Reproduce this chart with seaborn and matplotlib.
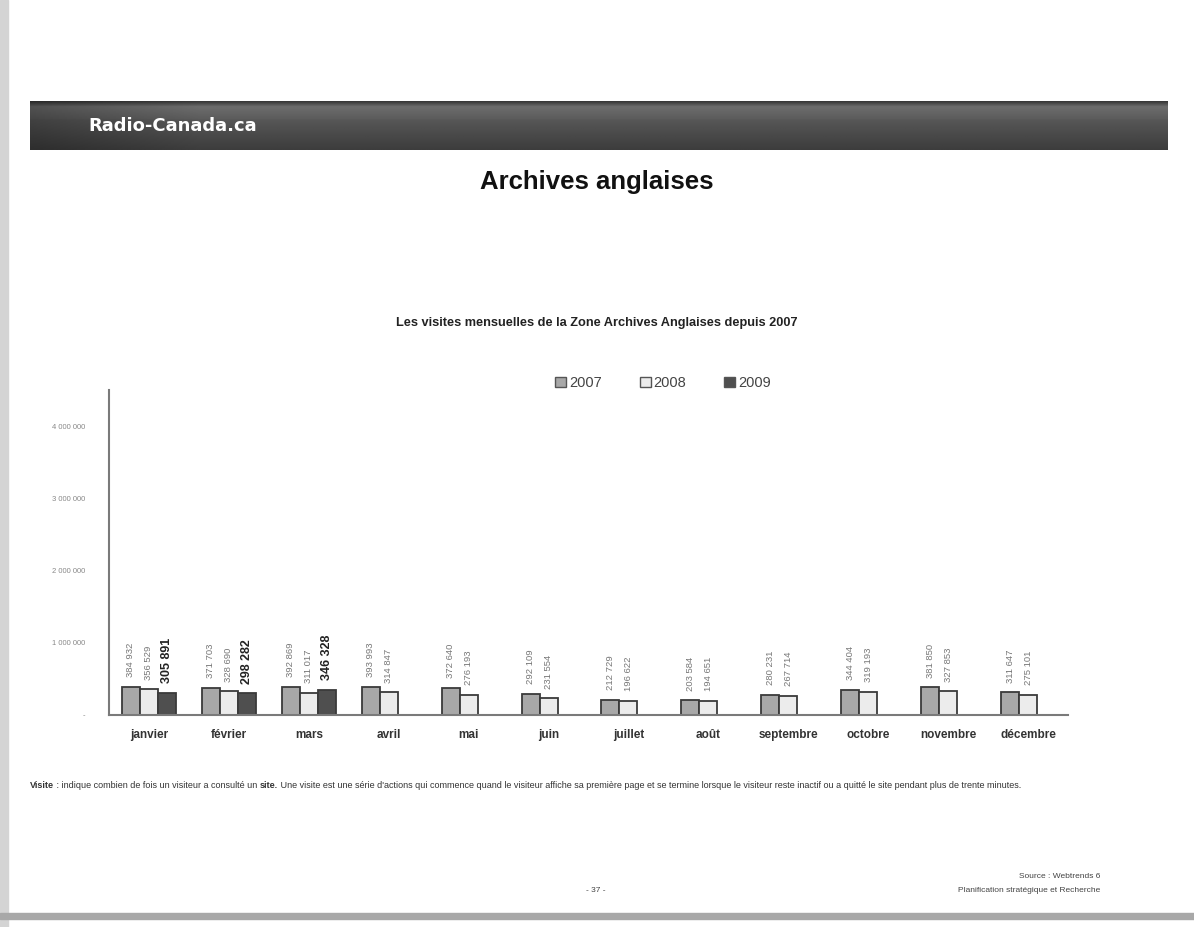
import numpy as np
import pandas as pd
import matplotlib
matplotlib.use("Agg")
import matplotlib.pyplot as plt
import matplotlib.patches as mpatches
import seaborn as sns

# data
mois = ["janvier", "février", "mars", "avril", "mai", "juin", "juillet",
        "août", "septembre", "octobre", "novembre", "décembre"]
visites_2007 = [384932, 371703, 392869, 393993, 372640, 292109, 212729,
                203584, 280231, 344404, 381850, 311647]
visites_2008 = [356529, 328690, 311017, 314847, 276193, 231554, 196622,
                194651, 267714, 319193, 327853, 275101]
visites_2009 = [305891, 298282, 346328]
annees = ["2007", "2008", "2009"]
couleurs = ["#a8a8a8", "#ececec", "#4f4f4f"]
y_ticks = [0, 1000000, 2000000, 3000000, 4000000]

rows = []
for serie, an in zip([visites_2007, visites_2008, visites_2009], annees):
    for m, v in zip(mois, serie):
        rows.append({"mois": m, "annee": an, "visites": v})
df = pd.DataFrame(rows)

sns.set_style("white")
plt.rcParams["font.family"] = ["Liberation Sans", "DejaVu Sans"]

fig = plt.figure(figsize=(11.94, 9.27), dpi=100)
W, H = 1194, 927


def fx(px):
    return px / W


def fy(py):
    return 1 - py / H


# page borders
fig.patches.append(mpatches.Rectangle((0, 0), fx(8), 1, transform=fig.transFigure,
                                      color="#d4d4d4", zorder=0))
fig.patches.append(mpatches.Rectangle((0, fy(919)), 1, 6 / H,
                                      transform=fig.transFigure, color="#a8a8a8", zorder=0))

# header bar
hax = fig.add_axes([fx(30), fy(150), fx(1168) - fx(30), (150 - 101) / H])
grad = np.concatenate([np.linspace(0.22, 0.42, 6), np.linspace(0.42, 0.36, 12),
                       np.linspace(0.34, 0.24, 30)])
img = np.tile(grad[:, None], (1, 400))
img[:, :60] *= np.linspace(0.75, 1, 60)[None, :]
hax.imshow(img, cmap="gray", vmin=0, vmax=1, aspect="auto", extent=[0, 1, 0, 1])
hax.set_axis_off()
hax.text(0.051, 0.48, "Radio-Canada.ca", color="white", fontsize=13,
         fontweight="bold", va="center", ha="left", family=["DejaVu Sans"])

fig.text(0.5, fy(182), "Archives anglaises", ha="center", va="center",
         fontsize=18.5, fontweight="bold", color="#111111")
fig.text(0.5, fy(323), "Les visites mensuelles de la Zone Archives Anglaises depuis 2007",
         ha="center", va="center", fontsize=9.2, fontweight="bold", color="#222222")

# chart
ax = fig.add_axes([fx(109), fy(715), fx(1068) - fx(109), (715 - 390) / H])
sns.barplot(data=df, x="mois", y="visites", hue="annee", order=mois,
            hue_order=annees, palette=couleurs, width=0.675, gap=0,
            edgecolor="#3a3a3a", linewidth=1.3, errorbar=None, legend=False, ax=ax)

for ci, cont in enumerate(ax.containers):
    for bar in cont:
        h = bar.get_height()
        if np.isnan(h):
            continue
        lbl = f"{int(round(h)):,}".replace(",", " ")
        if annees[ci] == "2009":
            kw = dict(fontsize=9, fontweight="bold", color="#222222")
        else:
            kw = dict(fontsize=6.8, color="#777777")
        ax.annotate(lbl, (bar.get_x() + bar.get_width() / 2, h),
                    xytext=(0, 7), textcoords="offset points", rotation=90,
                    ha="center", va="bottom", **kw)

ax.set_ylim(0, 4500000)
ax.set_xlim(-0.5, len(mois) - 0.5)
ax.set_yticks(y_ticks)
ax.set_yticklabels(["-"] + [f"{v:,}".replace(",", " ") for v in y_ticks[1:]],
                   fontsize=5.5, color="#888888")
ax.set_xticks(range(len(mois)))
ax.set_xticklabels(mois, fontsize=8.5, fontweight="bold", color="#333333")
ax.set_xticks(np.arange(-0.5, len(mois)), minor=True)
ax.tick_params(axis="x", which="major", length=0, pad=10)
ax.tick_params(axis="x", which="minor", length=3, color="#808080", direction="out")
ax.tick_params(axis="y", length=3, color="#808080", direction="out", pad=14)
ax.set_xlabel("")
ax.set_ylabel("")
sns.despine(ax=ax)
for s in ["left", "bottom"]:
    ax.spines[s].set_color("#7a7a7a")
    ax.spines[s].set_linewidth(1.5)

handles = [mpatches.Patch(facecolor=c, edgecolor="#555555", label=a)
           for c, a in zip(couleurs, annees)]
fig.legend(handles=handles, loc="center", bbox_to_anchor=(fx(663), fy(383)),
           ncol=3, frameon=False, fontsize=10.5, handlelength=0.75,
           handleheight=0.75, handletextpad=0.2, columnspacing=2.6,
           labelcolor="#444444")

# footnote, with bold words
fig.canvas.draw()
renderer = fig.canvas.get_renderer()
parts = [("Visite", "bold"), (" : indique combien de fois un visiteur a consulté un ", "normal"),
         ("site.", "bold"),
         (" Une visite est une série d'actions qui commence quand le visiteur affiche sa première "
          "page et se termine lorsque le visiteur reste inactif ou a quitté le site pendant plus "
          "de trente minutes.", "normal")]
x = fx(30)
for txt, w in parts:
    t = fig.text(x, fy(786), txt, fontsize=6.5, fontweight=w, color="#333333",
                 ha="left", va="center")
    bb = t.get_window_extent(renderer=renderer)
    x += bb.width / W

fig.text(fx(596), fy(890), "- 37 -", ha="center", va="center", fontsize=6, color="#444444")
fig.text(fx(1100), fy(877), "Source : Webtrends 6", ha="right", va="center",
         fontsize=6, color="#444444")
fig.text(fx(1100), fy(890), "Planification stratégique et Recherche", ha="right",
         va="center", fontsize=6, color="#444444")

fig.savefig("out.png", dpi=100, facecolor="white")
